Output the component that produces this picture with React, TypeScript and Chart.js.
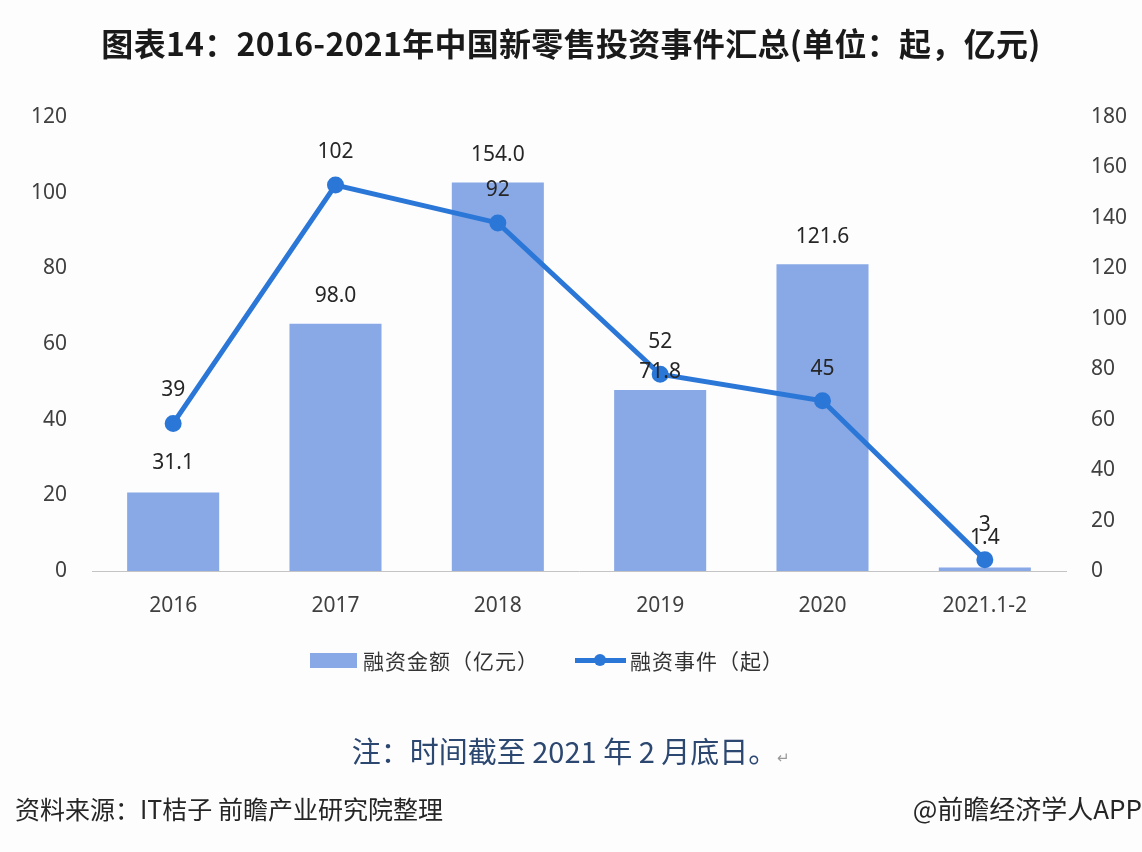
import React, { useEffect, useRef } from "react";
import { Chart, registerables } from "chart.js";

Chart.register(...registerables);

const categories = ["2016", "2017", "2018", "2019", "2020", "2021.1-2"];
const amountValues = [31.1, 98.0, 154.0, 71.8, 121.6, 1.4];
const amountLabels = ["31.1", "98.0", "154.0", "71.8", "121.6", "1.4"];
const eventValues = [39, 102, 92, 52, 45, 3];
const eventLabels = ["39", "102", "92", "52", "45", "3"];
const leftTicks = [0, 20, 40, 60, 80, 100, 120];
const rightTicks = [0, 20, 40, 60, 80, 100, 120, 140, 160, 180];

const BAR_COLOR = "#88a8e6";
const LINE_COLOR = "#2b77d7";
const TEXT_COLOR = "#404040";
const FONT = "'Noto Sans', 'Noto Sans CJK SC', sans-serif";

const labelPlugin = {
  id: "valueLabels",
  afterDatasetsDraw(chart: any) {
    const ctx = chart.ctx;
    ctx.save();
    ctx.font = `21px ${FONT}`;
    ctx.fillStyle = "#262626";
    ctx.textAlign = "center";
    ctx.textBaseline = "middle";
    chart.data.datasets.forEach((ds: any, di: number) => {
      const meta = chart.getDatasetMeta(di);
      const labels: string[] = ds.valueLabels;
      const offsets: number[] = ds.labelOffsets;
      meta.data.forEach((el: any, i: number) => {
        ctx.fillText(labels[i], el.x, el.y - offsets[i]);
      });
    });
    ctx.restore();
  },
};

export default function App() {
  const ref = useRef<HTMLCanvasElement | null>(null);

  useEffect(() => {
    if (!ref.current) return;
    const chart = new Chart(ref.current, {
      type: "bar",
      data: {
        labels: categories,
        datasets: [
          {
            type: "line",
            label: "融资事件（起）",
            data: eventValues,
            yAxisID: "y",
            borderColor: LINE_COLOR,
            backgroundColor: LINE_COLOR,
            borderWidth: 5,
            pointRadius: 6,
            pointBackgroundColor: LINE_COLOR,
            pointBorderColor: LINE_COLOR,
            tension: 0,
            order: 0,
            valueLabels: eventLabels,
            labelOffsets: [33, 33, 33, 32, 32, 35],
          } as any,
          {
            type: "bar",
            label: "融资金额（亿元）",
            data: amountValues,
            yAxisID: "y1",
            backgroundColor: BAR_COLOR,
            borderWidth: 0,
            categoryPercentage: 1,
            barPercentage: 0.567,
            order: 1,
            valueLabels: amountLabels,
            labelOffsets: [30, 28, 28, 18, 27, 29],
          } as any,
        ],
      },
      options: {
        responsive: false,
        animation: false,
        devicePixelRatio: 1,
        layout: { padding: { top: 117, left: 0, right: 0, bottom: 0 } },
        plugins: {
          legend: { display: false },
          tooltip: { enabled: false },
          title: { display: false },
        },
        scales: {
          x: {
            grid: { display: false, drawTicks: false },
            border: { display: true, color: "#c4c4c4", width: 1 },
            ticks: {
              color: TEXT_COLOR,
              font: { family: FONT, size: 21 },
              padding: 22,
              maxRotation: 0,
              autoSkip: false,
            },
            afterFit: (s: any) => {
              s.height = 852 - 571;
            },
          },
          y: {
            position: "left",
            min: 0,
            max: 120,
            afterBuildTicks: (s: any) => {
              s.ticks = leftTicks.map((v) => ({ value: v }));
            },
            grid: { display: false, drawTicks: false },
            border: { display: false },
            ticks: {
              color: TEXT_COLOR,
              font: { family: FONT, size: 21 },
              padding: 25,
            },
            afterFit: (s: any) => {
              s.width = 92;
            },
          },
          y1: {
            position: "right",
            min: 0,
            max: 180,
            afterBuildTicks: (s: any) => {
              s.ticks = rightTicks.map((v) => ({ value: v }));
            },
            grid: { display: false, drawTicks: false },
            border: { display: false },
            ticks: {
              color: TEXT_COLOR,
              font: { family: FONT, size: 21 },
              padding: 25,
            },
            afterFit: (s: any) => {
              s.width = 1142 - 1066;
            },
          },
        },
      },
      plugins: [labelPlugin],
    });
    return () => chart.destroy();
  }, []);

  const cjk = "'Noto Sans CJK SC', 'Noto Sans', sans-serif";

  return (
    <div
      style={{
        position: "fixed",
        left: 0,
        top: 0,
        width: 1142,
        height: 852,
        background: "#fdfdfe",
        overflow: "hidden",
      }}
    >
      <canvas
        ref={ref}
        width={1142}
        height={852}
        style={{ position: "absolute", left: 0, top: 0, width: 1142, height: 852 }}
      />
      <div
        style={{
          position: "absolute",
          left: 0,
          top: 20,
          width: 1142,
          textAlign: "center",
          fontFamily: cjk,
          fontWeight: 700,
          fontSize: 32,
          lineHeight: "44px",
          letterSpacing: "0.3px",
          color: "#1a1a1a",
          whiteSpace: "nowrap",
        }}
      >
        图表14：2016-2021年中国新零售投资事件汇总(单位：起，亿元)
      </div>
      {/* legend */}
      <div
        style={{
          position: "absolute",
          left: 310,
          top: 653,
          width: 47,
          height: 15,
          background: BAR_COLOR,
        }}
      />
      <div
        style={{
          position: "absolute",
          left: 363,
          top: 644,
          fontFamily: cjk,
          fontSize: 21,
          lineHeight: "32px",
          letterSpacing: "1px",
          color: "#333",
          whiteSpace: "nowrap",
        }}
      >
        融资金额（亿元）
      </div>
      <div
        style={{
          position: "absolute",
          left: 575,
          top: 658,
          width: 51,
          height: 5,
          background: LINE_COLOR,
        }}
      />
      <div
        style={{
          position: "absolute",
          left: 594,
          top: 654,
          width: 12,
          height: 12,
          borderRadius: 6,
          background: LINE_COLOR,
        }}
      />
      <div
        style={{
          position: "absolute",
          left: 630,
          top: 644,
          fontFamily: cjk,
          fontSize: 21,
          lineHeight: "32px",
          letterSpacing: "1px",
          color: "#333",
          whiteSpace: "nowrap",
        }}
      >
        融资事件（起）
      </div>
      {/* note */}
      <div
        style={{
          position: "absolute",
          left: 0,
          top: 730,
          width: 1142,
          textAlign: "center",
          fontFamily: cjk,
          fontSize: 29,
          lineHeight: "40px",
          color: "#2c4770",
          whiteSpace: "nowrap",
        }}
      >
        注：时间截至 2021 年 2 月底日。
        <span style={{ fontSize: 15, color: "#999" }}>↵</span>
      </div>
      <div
        style={{
          position: "absolute",
          left: 15,
          top: 790,
          fontFamily: cjk,
          fontSize: 25,
          lineHeight: "36px",
          color: "#262626",
          whiteSpace: "nowrap",
        }}
      >
        资料来源：IT桔子 前瞻产业研究院整理
      </div>
      <div
        style={{
          position: "absolute",
          right: 0,
          top: 790,
          fontFamily: cjk,
          fontSize: 26,
          lineHeight: "36px",
          color: "#262626",
          whiteSpace: "nowrap",
        }}
      >
        @前瞻经济学人APP
      </div>
    </div>
  );
}
